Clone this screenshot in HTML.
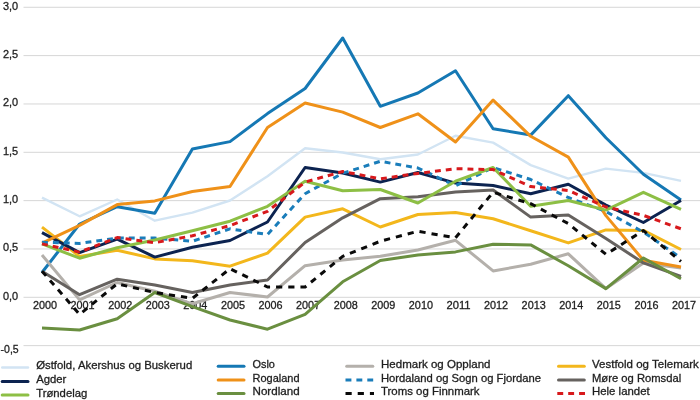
<!DOCTYPE html>
<html lang="no"><head><meta charset="utf-8"><title>Figur</title>
<style>html,body{margin:0;padding:0;background:#fff}body{width:700px;height:400px;overflow:hidden}svg{display:block}text{font-family:"Liberation Sans",Arial,sans-serif;font-size:11.3px;fill:#1e1e1e;stroke:#1e1e1e;stroke-width:0.3px}</style>
</head><body>
<svg width="700" height="400" viewBox="0 0 700 400">
<rect x="0" y="0" width="700" height="400" fill="#ffffff"/>
<g stroke="#d6d6d6" stroke-width="1" fill="none">
<line x1="23.5" y1="7.29" x2="700" y2="7.29"/>
<line x1="23.5" y1="55.62" x2="700" y2="55.62"/>
<line x1="23.5" y1="103.96" x2="700" y2="103.96"/>
<line x1="23.5" y1="152.30" x2="700" y2="152.30"/>
<line x1="23.5" y1="200.63" x2="700" y2="200.63"/>
<line x1="23.5" y1="248.97" x2="700" y2="248.97"/>
<line x1="23.5" y1="297.30" x2="700" y2="297.30"/>
<line x1="23.5" y1="345.63" x2="700" y2="345.63"/>
</g>
<g>
<text x="3" y="9.69" textLength="15.2" lengthAdjust="spacingAndGlyphs">3,0</text>
<text x="3" y="58.02" textLength="15.2" lengthAdjust="spacingAndGlyphs">2,5</text>
<text x="3" y="106.36" textLength="15.2" lengthAdjust="spacingAndGlyphs">2,0</text>
<text x="3" y="154.70" textLength="15.2" lengthAdjust="spacingAndGlyphs">1,5</text>
<text x="3" y="203.03" textLength="15.2" lengthAdjust="spacingAndGlyphs">1,0</text>
<text x="3" y="251.37" textLength="15.2" lengthAdjust="spacingAndGlyphs">0,5</text>
<text x="3" y="299.70" textLength="15.2" lengthAdjust="spacingAndGlyphs">0,0</text>
<text x="0.6" y="353.40" textLength="18.1" lengthAdjust="spacingAndGlyphs">-0,5</text>
</g>
<g text-anchor="middle">
<text x="45.00" y="308.80" textLength="24.1" lengthAdjust="spacingAndGlyphs">2000</text>
<text x="82.59" y="308.80" textLength="24.1" lengthAdjust="spacingAndGlyphs">2001</text>
<text x="120.18" y="308.80" textLength="24.1" lengthAdjust="spacingAndGlyphs">2002</text>
<text x="157.77" y="308.80" textLength="24.1" lengthAdjust="spacingAndGlyphs">2003</text>
<text x="195.36" y="308.80" textLength="24.1" lengthAdjust="spacingAndGlyphs">2004</text>
<text x="232.95" y="308.80" textLength="24.1" lengthAdjust="spacingAndGlyphs">2005</text>
<text x="270.54" y="308.80" textLength="24.1" lengthAdjust="spacingAndGlyphs">2006</text>
<text x="308.13" y="308.80" textLength="24.1" lengthAdjust="spacingAndGlyphs">2007</text>
<text x="345.72" y="308.80" textLength="24.1" lengthAdjust="spacingAndGlyphs">2008</text>
<text x="383.31" y="308.80" textLength="24.1" lengthAdjust="spacingAndGlyphs">2009</text>
<text x="420.90" y="308.80" textLength="24.1" lengthAdjust="spacingAndGlyphs">2010</text>
<text x="458.49" y="308.80" textLength="24.1" lengthAdjust="spacingAndGlyphs">2011</text>
<text x="496.08" y="308.80" textLength="24.1" lengthAdjust="spacingAndGlyphs">2012</text>
<text x="533.67" y="308.80" textLength="24.1" lengthAdjust="spacingAndGlyphs">2013</text>
<text x="571.26" y="308.80" textLength="24.1" lengthAdjust="spacingAndGlyphs">2014</text>
<text x="608.85" y="308.80" textLength="24.1" lengthAdjust="spacingAndGlyphs">2015</text>
<text x="646.44" y="308.80" textLength="24.1" lengthAdjust="spacingAndGlyphs">2016</text>
<text x="684.03" y="308.80" textLength="24.1" lengthAdjust="spacingAndGlyphs">2017</text>
</g>
<g fill="none" stroke-width="3.0" stroke-linejoin="round">
<polyline stroke="#d2e4f3" stroke-width="2.4" points="42.0,197.6 79.6,216.3 117.2,199.5 154.8,220.7 192.4,212.6 230.0,200.5 267.5,176.3 305.1,148.3 342.7,152.5 380.3,159.3 417.9,154.5 455.5,135.8 493.1,142.6 530.7,165.1 568.3,178.6 605.9,168.6 643.4,172.9 681.0,180.9"/>
<polyline stroke="#1578b4" points="42.0,272.5 79.6,224.0 117.2,206.7 154.8,213.3 192.4,149.0 230.0,141.6 267.5,113.6 305.1,88.5 342.7,38.0 380.3,106.3 417.9,93.0 455.5,70.7 493.1,128.7 530.7,135.1 568.3,95.7 605.9,137.7 643.4,174.3 681.0,200.0"/>
<polyline stroke="#b4b0ab" points="42.0,255.0 79.6,299.9 117.2,282.5 154.8,291.2 192.4,303.8 230.0,292.5 267.5,297.0 305.1,265.7 342.7,260.0 380.3,256.3 417.9,250.0 455.5,240.3 493.1,270.9 530.7,264.3 568.3,253.8 605.9,288.6 643.4,262.9 681.0,268.0"/>
<polyline stroke="#f3b71c" points="42.0,227.1 79.6,256.5 117.2,250.2 154.8,258.9 192.4,260.8 230.0,266.2 267.5,253.1 305.1,217.1 342.7,208.8 380.3,227.0 417.9,214.5 455.5,212.5 493.1,218.8 530.7,230.7 568.3,242.9 605.9,229.9 643.4,230.4 681.0,249.5"/>
<polyline stroke="#0c2350" points="42.0,232.6 79.6,252.6 117.2,239.1 154.8,257.1 192.4,247.3 230.0,240.5 267.5,222.0 305.1,167.5 342.7,173.0 380.3,182.1 417.9,172.5 455.5,183.1 493.1,185.5 530.7,193.7 568.3,184.3 605.9,205.1 643.4,222.5 681.0,200.5"/>
<polyline stroke="#ef9119" points="42.0,243.2 79.6,225.4 117.2,204.6 154.8,200.9 192.4,191.5 230.0,186.5 267.5,127.5 305.1,103.0 342.7,112.1 380.3,127.5 417.9,113.8 455.5,142.0 493.1,100.1 530.7,136.3 568.3,157.1 605.9,215.6 643.4,260.3 681.0,267.1"/>
<polyline stroke="#1a7dba" stroke-dasharray="5.9 5" points="42.0,242.2 79.6,243.4 117.2,238.1 154.8,238.1 192.4,241.3 230.0,228.8 267.5,234.5 305.1,193.7 342.7,173.2 380.3,161.3 417.9,168.0 455.5,185.8 493.1,167.5 530.7,179.5 568.3,197.5 605.9,211.5 643.4,232.1 681.0,258.0"/>
<polyline stroke="#66625f" points="42.0,271.2 79.6,294.7 117.2,279.2 154.8,285.0 192.4,292.5 230.0,285.0 267.5,280.0 305.1,242.5 342.7,217.8 380.3,198.7 417.9,196.8 455.5,192.0 493.1,190.0 530.7,217.1 568.3,215.1 605.9,238.6 643.4,262.9 681.0,276.3"/>
<polyline stroke="#8dbf45" points="42.0,243.9 79.6,258.2 117.2,247.8 154.8,240.0 192.4,230.8 230.0,221.2 267.5,206.3 305.1,181.2 342.7,190.8 380.3,189.5 417.9,203.0 455.5,181.2 493.1,167.5 530.7,206.3 568.3,200.5 605.9,210.1 643.4,192.3 681.0,209.4"/>
<polyline stroke="#6a8f40" points="42.0,327.9 79.6,330.0 117.2,318.7 154.8,292.5 192.4,306.7 230.0,320.0 267.5,329.2 305.1,314.3 342.7,281.8 380.3,260.5 417.9,255.0 455.5,251.9 493.1,244.3 530.7,244.9 568.3,265.7 605.9,288.6 643.4,258.0 681.0,278.7"/>
<polyline stroke="#0a0a0a" stroke-dasharray="6.2 6" points="42.0,271.2 79.6,314.4 117.2,283.8 154.8,292.5 192.4,298.4 230.0,268.7 267.5,287.0 305.1,287.0 342.7,256.3 380.3,241.2 417.9,231.3 455.5,237.8 493.1,192.3 530.7,203.7 568.3,223.6 605.9,254.3 643.4,230.6 681.0,261.4"/>
<polyline stroke="#d7191c" stroke-dasharray="5.9 5" points="42.0,243.9 79.6,252.1 117.2,237.6 154.8,242.7 192.4,235.8 230.0,225.6 267.5,211.3 305.1,182.1 342.7,171.5 380.3,178.8 417.9,173.4 455.5,168.7 493.1,169.6 530.7,186.6 568.3,190.5 605.9,207.0 643.4,215.4 681.0,228.8"/>
</g>
<g fill="none" stroke-width="3.0">
<line x1="2.2" y1="367.5" x2="28.0" y2="367.5" stroke="#d2e4f3" stroke-linecap="round" stroke-width="2.4"/>
<line x1="218.2" y1="366.2" x2="244.0" y2="366.2" stroke="#1578b4" stroke-linecap="round"/>
<line x1="346.7" y1="366.2" x2="372.8" y2="366.2" stroke="#b4b0ab" stroke-linecap="round"/>
<line x1="558.5" y1="366.2" x2="584.3" y2="366.2" stroke="#f3b71c" stroke-linecap="round"/>
<line x1="2.2" y1="381.6" x2="28.0" y2="381.6" stroke="#0c2350" stroke-linecap="round"/>
<line x1="218.2" y1="380.0" x2="244.0" y2="380.0" stroke="#ef9119" stroke-linecap="round"/>
<line x1="345.5" y1="380.0" x2="374.0" y2="380.0" stroke="#1a7dba" stroke-dasharray="5.9 5"/>
<line x1="558.5" y1="380.0" x2="584.3" y2="380.0" stroke="#66625f" stroke-linecap="round"/>
<line x1="2.2" y1="395.0" x2="28.0" y2="395.0" stroke="#8dbf45" stroke-linecap="round"/>
<line x1="218.2" y1="393.4" x2="244.0" y2="393.4" stroke="#6a8f40" stroke-linecap="round"/>
<line x1="345.5" y1="393.4" x2="374.0" y2="393.4" stroke="#0a0a0a" stroke-dasharray="6.2 6"/>
<line x1="557.3" y1="393.4" x2="585.5" y2="393.4" stroke="#d7191c" stroke-dasharray="5.9 5"/>
</g>
<g>
<text x="36.2" y="369.3" textLength="156.04" lengthAdjust="spacingAndGlyphs">Østfold, Akershus og Buskerud</text>
<text x="252.5" y="368.0" textLength="22.42" lengthAdjust="spacingAndGlyphs">Oslo</text>
<text x="381.0" y="368.0" textLength="109.54" lengthAdjust="spacingAndGlyphs">Hedmark og Oppland</text>
<text x="592.0" y="368.0" textLength="106.76" lengthAdjust="spacingAndGlyphs">Vestfold og Telemark</text>
<text x="36.2" y="382.9" textLength="30.16" lengthAdjust="spacingAndGlyphs">Agder</text>
<text x="252.5" y="381.6" textLength="47.07" lengthAdjust="spacingAndGlyphs">Rogaland</text>
<text x="381.0" y="381.6" textLength="160.00" lengthAdjust="spacingAndGlyphs">Hordaland og Sogn og Fjordane</text>
<text x="592.0" y="381.6" textLength="89.15" lengthAdjust="spacingAndGlyphs">Møre og Romsdal</text>
<text x="36.2" y="396.5" textLength="51.08" lengthAdjust="spacingAndGlyphs">Trøndelag</text>
<text x="252.5" y="395.1" textLength="47.14" lengthAdjust="spacingAndGlyphs">Nordland</text>
<text x="381.0" y="395.1" textLength="98.59" lengthAdjust="spacingAndGlyphs">Troms og Finnmark</text>
<text x="592.0" y="395.1" textLength="57.67" lengthAdjust="spacingAndGlyphs">Hele landet</text>
</g>
</svg></body></html>
